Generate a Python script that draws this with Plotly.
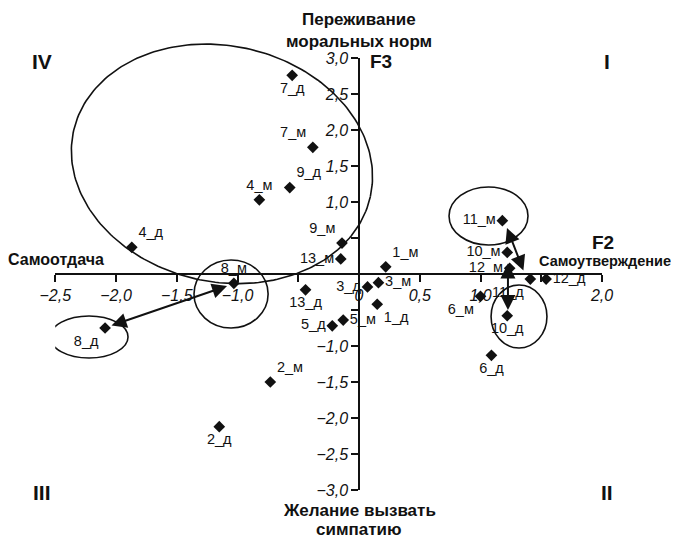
import numpy as np
import plotly.graph_objects as go

# --- data (F2 = horizontal, F3 = vertical) ---
labels = ['1_м', '1_д', '2_м', '2_д', '3_м', '3_д', '4_м', '4_д', '5_м', '5_д',
          '6_м', '6_д', '7_м', '7_д', '8_м', '8_д', '9_м', '9_д', '10_м', '10_д',
          '11_м', '11_д', '12_м', '12_д', '13_м', '13_д']
f2 = [0.22, 0.15, -0.73, -1.15, 0.16, 0.07, -0.82, -1.87, -0.13, -0.22,
      1.00, 1.09, -0.38, -0.55, -1.03, -2.09, -0.14, -0.57, 1.22, 1.22,
      1.18, 1.41, 1.24, 1.54, -0.15, -0.44]
f3 = [0.10, -0.42, -1.50, -2.12, -0.12, -0.18, 1.03, 0.37, -0.64, -0.72,
      -0.31, -1.13, 1.76, 2.76, -0.13, -0.75, 0.43, 1.20, 0.30, -0.58,
      0.74, -0.07, 0.08, -0.07, 0.21, -0.22]

x_ticks = [-2.5, -2.0, -1.5, -1.0, -0.5, 0, 0.5, 1.0, 1.5, 2.0]
y_ticks = [-3.0, -2.5, -2.0, -1.5, -1.0, -0.5, 0.5, 1.0, 1.5, 2.0, 2.5, 3.0]
# tick labels that are covered by point labels in the original
x_hidden = [-0.5, 1.5]
y_hidden = [-0.5, 0.5]

# label placement next to each point
text_pos = ['top right', 'bottom right', 'top right', 'bottom center', 'middle right',
            'middle left', 'top center', 'top right', 'middle right', 'middle left',
            'bottom left', 'bottom center', 'top left', 'bottom center', 'top center',
            'bottom left', 'top left', 'top right', 'middle left', 'bottom center',
            'middle left', 'bottom left', 'middle left', 'middle right', 'middle left',
            'bottom center']

# --- geometry of the page ---
W, H = 679, 539
OFF = 8                  # default page margin around the plot div
OX, OY = 359 - OFF, 274 - OFF   # origin inside the figure
SX, SY = 121.5, 72.0     # pixels per unit

FONT = 'Liberation Sans Narrow, Liberation Sans, Arial, sans-serif'

def px(x, y):
    return (x - OFF) / W, 1 - (y - OFF) / H

def fmt(v, hidden):
    if v in hidden:
        return ''
    return f'{v:.1f}'.replace('.', ',').replace('-', '\u2212') if v != 0 else '0'

fig = go.Figure()

# points
fig.add_trace(go.Scatter(
    x=f2, y=f3, mode='markers+text', text=labels, textposition=text_pos,
    marker=dict(symbol='diamond', size=9, color='#111'),
    textfont=dict(family=FONT, size=14.5, color='#111'),
    cliponaxis=False, showlegend=False, hoverinfo='skip'))

# big ellipse on a full-page helper axis pair (so it is not clipped)
def ellipse(xc, yc, a, b, tilt):
    t = np.linspace(0, 2 * np.pi, 240)
    phi = np.radians(tilt)
    u, v = a * np.cos(t), b * np.sin(t)
    dx = u * np.cos(phi) - v * np.sin(phi)
    dy = u * np.sin(phi) + v * np.cos(phi)
    return xc + dx / SX, yc - dy / SY

ex, ey = ellipse(-1.128, 1.53, 152, 118, 12.4)
fig.add_trace(go.Scatter(x=ex, y=ey, mode='lines', xaxis='x2', yaxis='y2',
                         line=dict(color='#111', width=1.6),
                         showlegend=False, hoverinfo='skip'))

# small circled groups
for xc, yc, rx, ry in [(-1.053, -0.278, 0.305, 0.472),
                       (-2.222, -0.875, 0.321, 0.292),
                       (1.066, 0.806, 0.325, 0.403),
                       (1.317, -0.590, 0.230, 0.4375)]:
    fig.add_shape(type='circle', xref='x', yref='y',
                  x0=xc - rx, x1=xc + rx, y0=yc - ry, y1=yc + ry,
                  line=dict(color='#111', width=1.6))

# double arrows
for (x1, y1), (x0, y0) in [((-1.086, -0.167), (-2.049, -0.722)),
                           ((1.218, 0.639), (1.358, 0.028)),
                           ((1.226, -0.50), (1.226, 0.167))]:
    fig.add_annotation(x=x1, y=y1, ax=x0, ay=y0, xref='x', yref='y',
                       axref='x', ayref='y', text='', showarrow=True,
                       arrowhead=2, arrowsize=1.5, arrowwidth=2,
                       arrowside='end+start', arrowcolor='#111')

# titles and quadrant marks
bold = dict(family=FONT, size=17, color='#111', weight='bold')
notes = [
    ('Переживание', 359, 20, 'center', bold),
    ('моральных норм', 359, 42, 'center', bold),
    ('Желание вызвать', 359, 511, 'center', bold),
    ('симпатию', 359, 529, 'center', bold),
    ('F3', 381, 62, 'center', dict(bold, size=19)),
    ('F2', 603, 242, 'center', dict(bold, size=19)),
    ('Самоотдача', 56, 260, 'center', dict(bold, size=16)),
    ('Самоутверждение', 605, 261, 'center', dict(bold, size=14.5)),
    ('IV', 42, 62, 'center', dict(bold, size=21)),
    ('I', 607, 62, 'center', dict(bold, size=21)),
    ('III', 42, 492, 'center', dict(bold, size=21)),
    ('II', 607, 492, 'center', dict(bold, size=21)),
]
for txt, x, y, anchor, font in notes:
    xp, yp = px(x, y)
    fig.add_annotation(x=xp, y=yp, xref='paper', yref='paper', text=txt,
                       showarrow=False, xanchor=anchor, yanchor='middle',
                       font=font)

xr = [-2.5, 2.0]
yr = [-3.0, 3.0]
tickfont = dict(family=FONT, size=16, color='#111', style='italic')
axis_style = dict(showgrid=False, zeroline=False, showline=True, automargin=False,
                  linecolor='#111', linewidth=1.5, ticks='outside', ticklen=7,
                  tickcolor='#111', tickwidth=1.5, tickfont=tickfont)
fig.update_layout(
    width=W, height=H, margin=dict(l=0, r=0, t=0, b=0, autoexpand=False),
    paper_bgcolor='white', plot_bgcolor='rgba(0,0,0,0)', showlegend=False,
    xaxis=dict(range=xr, domain=[(OX + SX * xr[0]) / W, (OX + SX * xr[1]) / W],
               anchor='free', position=1 - OY / H, side='bottom',
               tickvals=x_ticks, ticktext=[fmt(v, x_hidden) for v in x_ticks],
               **axis_style),
    yaxis=dict(range=yr, domain=[1 - (OY - SY * yr[0]) / H, 1 - (OY - SY * yr[1]) / H],
               anchor='free', position=OX / W, side='left',
               tickvals=y_ticks, ticktext=[fmt(v, y_hidden) for v in y_ticks],
               **axis_style),
    xaxis2=dict(range=[-OX / SX, (W - OX) / SX], domain=[0, 1], anchor='y2',
                visible=False, automargin=False),
    yaxis2=dict(range=[(OY - H) / SY, OY / SY], domain=[0, 1], anchor='x2',
                visible=False, automargin=False),
)

fig.write_html('out.html')
